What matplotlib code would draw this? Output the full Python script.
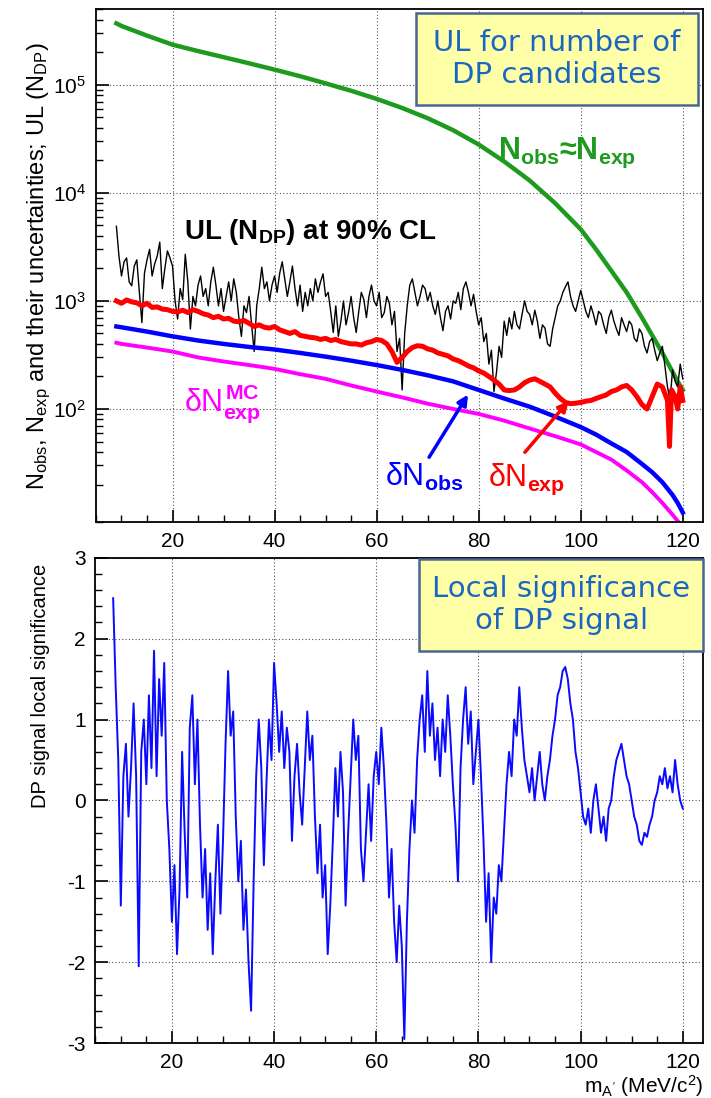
import numpy as np
import matplotlib.pyplot as plt
from matplotlib.patches import Rectangle
from matplotlib.ticker import MultipleLocator, LogLocator, NullFormatter

plt.rcParams['font.family'] = ['Liberation Sans', 'DejaVu Sans']
plt.rcParams['mathtext.fontset'] = 'custom'
plt.rcParams['mathtext.rm'] = 'Liberation Sans'
plt.rcParams['mathtext.it'] = 'Liberation Sans'
plt.rcParams['mathtext.bf'] = 'Liberation Sans:bold'
plt.rcParams['mathtext.sf'] = 'Liberation Sans'
plt.rcParams['axes.unicode_minus'] = False

# -------------------------------
# top panel: expected / observed counts vs mass (MeV/c^2)
# -------------------------------
mass_smooth = [9, 10, 15, 20, 25, 30, 35, 40, 45, 50, 55, 60, 65, 70, 75, 80, 85,
               90, 95, 100, 103, 106, 109, 112, 114, 116, 118, 119, 120]
n_obs = [3.7e5, 3.5e5, 2.85e5, 2.35e5, 2.05e5, 1.8e5, 1.58e5, 1.38e5, 1.2e5,
         1.03e5, 8.8e4, 7.4e4, 6.1e4, 4.9e4, 3.8e4, 2.8e4, 1.95e4, 1.3e4, 8.0e3,
         4.6e3, 3.0e3, 1.9e3, 1.2e3, 700, 480, 330, 220, 180, 150]
dn_obs = [580, 570, 520, 470, 430, 400, 375, 355, 330, 305, 280, 255, 230, 205,
          180, 150, 125, 105, 85, 68, 58, 48, 40, 31, 26, 21, 16, 13.5, 11]
mass_mc = [9, 10, 15, 20, 25, 30, 35, 40, 45, 50, 55, 60, 65, 70, 75, 80, 85,
           90, 95, 100, 103, 106, 109, 112, 114, 116, 118, 119]
dn_exp_mc = [410, 400, 370, 340, 300, 275, 255, 235, 210, 190, 165, 145, 128, 112,
             100, 90, 78, 66, 56, 47, 40, 34, 27, 21, 17, 13.5, 10.5, 9.2]

mass_red = list(range(9, 118)) + [117.4, 117.8, 118.5, 119, 119.5, 120]
dn_exp = [1000, 950, 1020, 980, 960, 900, 950, 870, 880, 840, 830, 800, 790, 820,
          780, 830, 800, 760, 740, 700, 720, 680, 690, 650, 640, 660, 620, 580,
          600, 570, 560, 580, 540, 520, 500, 520, 480, 470, 460, 455, 440, 450,
          430, 440, 420, 410, 400, 400, 390, 410, 420, 440, 430, 400, 340, 270,
          300, 340, 370, 385, 380, 360, 350, 330, 320, 310, 290, 280, 265, 250,
          240, 225, 215, 200, 185, 170, 150, 148, 150, 160, 175, 185, 190, 180,
          170, 160, 140, 125, 115, 112, 113, 115, 118, 120, 125, 130, 135, 145,
          150, 160, 165, 150, 130, 110, 100, 130, 170, 160, 120,
          45, 150, 130, 100, 160, 120]

mass_ul = np.arange(9, 120.01, 0.5)
ul_ndp = [4900, 2600, 1700, 2300, 2500, 1500, 1380, 2100, 2400, 1200,
          630, 1800, 2400, 3000, 1700, 2200, 2600, 3500, 1300, 2000,
          2900, 2500, 2100, 1000, 680, 1300, 1030, 2700, 1500, 550,
          1100, 900, 1400, 1700, 1100, 1300, 900, 1500, 2050, 1400,
          900, 1300, 800, 1100, 1500, 1000, 1600, 1200, 700, 470,
          900, 780, 1100, 600, 340, 900, 1300, 2050, 1300, 1500,
          1000, 1400, 1700, 1200, 1800, 2300, 1600, 1100, 1500, 2100,
          1300, 900, 1400, 800, 1200, 900, 1300, 1000, 1600, 1200,
          1500, 1780, 1100, 1200, 800, 510, 900, 470, 650, 1000,
          600, 780, 1100, 700, 510, 800, 1200, 1030, 700, 1100,
          1400, 1000, 900, 1200, 700, 780, 1100, 950, 600, 800,
          340, 450, 150, 500, 900, 1400, 1600, 1200, 900, 1100,
          1400, 1300, 1000, 1200, 900, 750, 1000, 700, 530, 800,
          900, 680, 1000, 950, 1200, 830, 1300, 1500, 1200, 900,
          1150, 800, 600, 700, 420, 500, 260, 350, 145, 220,
          380, 300, 650, 480, 700, 550, 800, 600, 550, 750,
          1000, 800, 750, 600, 820, 650, 450, 600, 560, 400,
          380, 550, 700, 900, 1000, 1200, 1350, 1500, 1100, 900,
          800, 1000, 1250, 1000, 800, 700, 900, 750, 600, 800,
          750, 600, 500, 700, 820, 650, 550, 480, 700, 600,
          520, 650, 600, 450, 420, 550, 500, 380, 330, 420,
          450, 350, 280, 330, 380, 250, 160, 120, 230, 180,
          160, 260, 190]

# -------------------------------
# bottom panel: local significance
# -------------------------------
mass_sig = np.arange(8.5, 120.01, 0.5)
local_sig = [2.5, 1.4, 0.5,
             -1.3, 0.3, 0.7, -0.2, 0.4, 1.2, 0.3, -2.05, 0.6, 1.0,
             0.2, 1.3, 0.4, 1.85, 0.3, 1.5, 0.8, 1.7, 0.0, -0.6,
             -1.5, -0.8, -1.9, -1.1, 0.6, -0.4, -1.2, 0.9, 1.3, 0.2,
             1.0, -0.3, -1.2, -0.6, -1.6, -0.9, -1.9, -1.0, -0.3, -1.4,
             -0.5, 0.7, 1.6, 0.8, 1.1, -0.2, -1.0, -0.5, -1.6, -1.1,
             -2.0, -2.6, -1.0, 0.3, 1.0, 0.4, -0.8, 0.2, 1.0, 0.5,
             1.7, 1.2, 0.6, 1.1, 0.4, 0.9, 0.6, -0.5, 0.3, 0.7,
             0.1, -0.3, 0.4, 1.1, 0.5, 0.8, -0.2, -0.9, -0.3, -1.2,
             -0.8, -1.9, -1.3, -0.5, 0.4, -0.2, 0.6, 0.1, -1.3, -0.4,
             0.3, 1.0, 0.5, 0.8, -0.6, -1.0, -0.4, 0.2, -0.5, 0.3,
             0.6, 0.2, 0.9, 0.4, -0.3, -1.2, -0.6, -1.5, -2.0, -1.3,
             -1.8, -2.95, -1.5, -0.6, 0.0, -0.4, 0.5, 1.0, 1.3, 0.6,
             1.6, 0.8, 1.2, 0.5, 0.9, 0.3, 1.0, 0.6, 1.3, 0.8,
             0.2, -0.3, -1.0, 0.4, 1.0, 1.4, 0.7, 1.1, 0.2, 0.6,
             1.0, 0.3, -0.5, -1.5, -0.9, -2.0, -1.2, -1.4, -0.8, -1.0,
             -0.4, 0.2, 0.6, 0.3, 1.0, 0.8, 1.4, 0.9, 0.5, 0.3,
             0.1, 0.4, 0.0, 0.3, 0.6, 0.2, 0.0, 0.3, 0.5, 0.8,
             1.0, 1.3, 1.4, 1.6, 1.65, 1.5, 1.2, 1.0, 0.6, 0.4,
             0.1, -0.2, -0.3, -0.1, -0.4, 0.0, 0.2, -0.1, -0.4, -0.2,
             -0.5, -0.1, 0.0, 0.3, 0.5, 0.6, 0.7, 0.5, 0.3, 0.2,
             0.0, -0.2, -0.3, -0.5, -0.55, -0.4, -0.45, -0.3, -0.2, 0.0,
             0.1, 0.3, 0.2, 0.4, 0.15, 0.3, 0.1, 0.5, 0.2, 0.0,
             -0.1]

xticks = [20, 40, 60, 80, 100, 120]

fig = plt.figure(figsize=(7.11, 10.98), dpi=100)
ax1 = fig.add_axes([0.135, 0.5246, 0.854, 0.467])
ax2 = fig.add_axes([0.134, 0.050, 0.855, 0.442])

for ax in (ax1, ax2):
    ax.set_xlim(5, 124)
    ax.set_xticks(xticks)
    ax.xaxis.set_minor_locator(MultipleLocator(5))
    ax.tick_params(which='both', direction='in', labelsize=15, top=False, right=False)
    ax.tick_params(which='major', length=9, width=1.2, pad=7)
    ax.tick_params(which='minor', length=5, width=1.0)
    ax.grid(True, which='major', linestyle=(0, (1, 2)), color='#555555', linewidth=0.8)
    for s in ax.spines.values():
        s.set_linewidth(1.3)

# top panel
ax1.set_yscale('log')
ax1.set_ylim(9, 5e5)
ax1.set_yticks([1e2, 1e3, 1e4, 1e5])
ax1.yaxis.set_minor_locator(LogLocator(base=10, subs=np.arange(2, 10), numticks=20))
ax1.yaxis.set_minor_formatter(NullFormatter())

ax1.plot(mass_smooth, n_obs, color='#1e9b1e', lw=3.2)
ax1.plot(mass_ul, ul_ndp, color='black', lw=1.0)
ax1.plot(mass_red, dn_exp, color='red', lw=3.6)
ax1.plot(mass_smooth, dn_obs, color='blue', lw=3.2)
ax1.plot(mass_mc, dn_exp_mc, color='magenta', lw=2.8)

ax1.set_ylabel(r'$N_{obs}$, $N_{exp}$ and their uncertainties; UL ($N_{DP}$)', fontsize=17)
ax1.yaxis.set_label_coords(-0.071, 0.5)

ax1.text(83.8, 2.07e4, r'$\mathbf{N_{obs}}$≈$\mathbf{N_{exp}}$', color='#1e9b1e',
         fontsize=22, fontweight='bold', ha='left', va='baseline')
ax1.text(22.2, 3700, r'UL ($\mathbf{N_{DP}}$) at 90% CL', color='black',
         fontsize=20, fontweight='bold', ha='left', va='baseline')
ax1.text(22.2, 96, r'δ$N^{\mathbf{MC}}_{\mathbf{exp}}$', color='magenta', fontsize=22,
         ha='left', va='baseline')
ax1.text(61.7, 19.4, r'δ$N_{\mathbf{obs}}$', color='blue', fontsize=22, ha='left', va='baseline')
ax1.text(81.8, 19.4, r'δ$N_{\mathbf{exp}}$', color='red', fontsize=22, ha='left', va='baseline')

ax1.annotate('', xy=(78.2, 143), xytext=(70, 34),
             arrowprops=dict(arrowstyle='-|>', color='blue', lw=2.5, mutation_scale=15))
ax1.annotate('', xy=(98, 124), xytext=(88.7, 38),
             arrowprops=dict(arrowstyle='-|>', color='red', lw=2.5, mutation_scale=15))

# bottom panel
ax2.set_ylim(-3, 3)
ax2.set_yticks([-3, -2, -1, 0, 1, 2, 3])
ax2.yaxis.set_minor_locator(MultipleLocator(0.2))
ax2.plot(mass_sig, local_sig, color='#0a0aff', lw=1.4)
ax2.set_ylabel('DP signal local significance', fontsize=14.5)
ax2.yaxis.set_label_coords(-0.074, 0.736)
ax2.set_xlabel(r'$m_{A^{\prime}}$ (MeV/c$^{2}$)', fontsize=15, loc='right', labelpad=1)

# yellow title boxes
box_fill = '#ffffa8'
box_edge = '#4a6690'
box_text = '#1a66c2'
ax1.add_patch(Rectangle((0.527, 0.813), 0.465, 0.179, transform=ax1.transAxes,
                        facecolor=box_fill, edgecolor=box_edge, lw=1.8, zorder=5))
ax1.text(0.759, 0.9025, 'UL for number of\nDP candidates', transform=ax1.transAxes,
         ha='center', va='center', fontsize=21, color=box_text,
         family='DejaVu Sans', linespacing=1.2, zorder=6)
ax2.add_patch(Rectangle((0.533, 0.808), 0.467, 0.19, transform=ax2.transAxes,
                        facecolor=box_fill, edgecolor=box_edge, lw=1.8, zorder=5,
                        clip_on=False))
ax2.text(0.7665, 0.903, 'Local significance\nof DP signal', transform=ax2.transAxes,
         ha='center', va='center', fontsize=21, color=box_text,
         family='DejaVu Sans', linespacing=1.2, zorder=6)

plt.savefig('out.png', dpi=100)
